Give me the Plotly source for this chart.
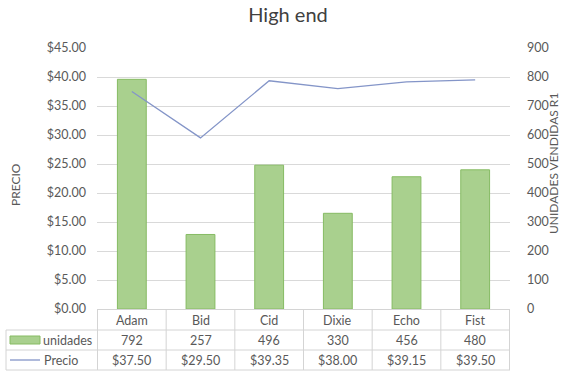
import plotly.graph_objects as go

# Data
categorias = ["Adam", "Bid", "Cid", "Dixie", "Echo", "Fist"]
unidades = [792, 257, 496, 330, 456, 480]
precio = [37.50, 29.50, 39.35, 38.00, 39.15, 39.50]

W, H = 561, 373
L, R, T, B = 97, 510, 48, 309  # plot area in pixels

def px(x):
    return (x - L) / (R - L)

def py(y):
    return (B - y) / (B - T)

FONT = "Lato, Carlito, Calibri, sans-serif"
GREY = "#595959"
LINE = "#d4d4d4"

fig = go.Figure()

fig.add_trace(go.Bar(
    x=categorias, y=unidades, name="unidades", yaxis="y",
    width=0.42,
    marker=dict(color="#a9d08e", line=dict(color="#86bb63", width=1)),
))
fig.add_trace(go.Scatter(
    x=categorias, y=precio, name="Precio", yaxis="y2", mode="lines",
    line=dict(color="#8495c8", width=1.3),
))

shapes = []
annotations = []

# Data table grid below the plot
for i in range(len(categorias) + 1):
    shapes.append(dict(type="line", xref="x", yref="paper",
                       x0=i - 0.5, x1=i - 0.5, y0=py(B), y1=py(370),
                       line=dict(color=LINE, width=1)))
shapes.append(dict(type="line", xref="paper", yref="paper",
                   x0=px(6), x1=px(6), y0=py(330), y1=py(370),
                   line=dict(color=LINE, width=1)))
for yy in (330, 350, 370):
    shapes.append(dict(type="line", xref="paper", yref="paper",
                       x0=px(6), x1=1, y0=py(yy), y1=py(yy),
                       line=dict(color=LINE, width=1)))

# Legend keys inside the table
shapes.append(dict(type="rect", xref="paper", yref="paper",
                   x0=px(10), x1=px(40), y0=py(344), y1=py(336),
                   fillcolor="#a9d08e", line=dict(color="#86bb63", width=1)))
shapes.append(dict(type="line", xref="paper", yref="paper",
                   x0=px(10), x1=px(40), y0=py(360), y1=py(360),
                   line=dict(color="#8495c8", width=1.3)))

tfont = dict(family=FONT, size=12.5, color=GREY)
afont = dict(family=FONT, size=12, color=GREY)

def note(x, y, text, xref="paper", xanchor="center", **kw):
    annotations.append(dict(x=x, y=y, xref=xref, yref="paper", text=text,
                            showarrow=False, xanchor=xanchor, yanchor="middle",
                            font=kw.pop("font", tfont), **kw))

for c, u, p in zip(categorias, unidades, precio):
    note(c, py(320), c, xref="x")
    note(c, py(340), f"{u}", xref="x")
    note(c, py(360), f"${p:.2f}", xref="x")
note(px(41), py(340), "unidades", xanchor="left")
note(px(42), py(360), "Precio", xanchor="left")

# Axis titles
note(px(15), py(185), "PRECIO", textangle=-90, font=afont)
note(px(553), py(164), "UNIDADES VENDIDAS R1", textangle=-90, font=afont)

fig.update_layout(
    width=W, height=H,
    margin=dict(l=L, r=W - R, t=T, b=H - B, pad=0),
    paper_bgcolor="white", plot_bgcolor="white",
    showlegend=False,
    title=dict(text="High end", x=288 / W, xanchor="center",
               y=1 - 15 / H, yanchor="middle",
               font=dict(family=FONT, size=20, color="#404040")),
    xaxis=dict(showticklabels=False, showgrid=False, zeroline=False,
               showline=True, linecolor=LINE, linewidth=1, ticks=""),
    yaxis=dict(side="right", range=[0, 900], dtick=100,
               showgrid=True, gridcolor="#d9d9d9", gridwidth=1, zeroline=False,
               tickfont=dict(family=FONT, size=12.5, color=GREY),
               ticklabelstandoff=16),
    yaxis2=dict(side="left", overlaying="y", range=[0, 45], dtick=5,
                tickformat="$,.2f", showgrid=False, zeroline=False,
                tickfont=dict(family=FONT, size=12.5, color=GREY),
                ticklabelstandoff=10),
    shapes=shapes,
    annotations=annotations,
)

fig.write_html("out.html")
